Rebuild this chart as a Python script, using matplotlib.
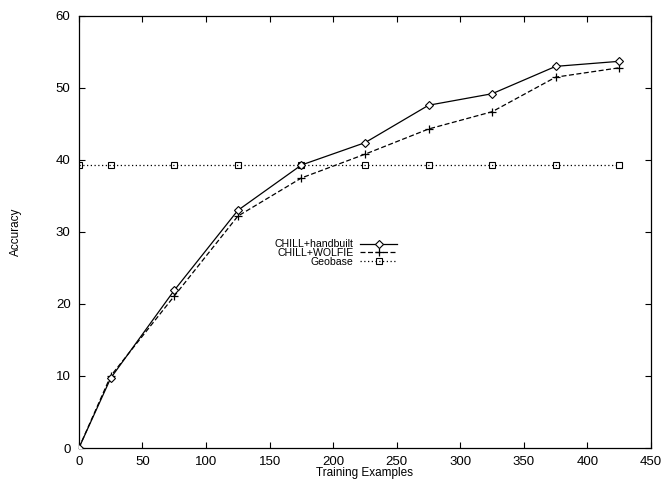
import matplotlib
matplotlib.use("Agg")
import matplotlib.pyplot as plt

plt.rcParams["font.family"] = ["Liberation Sans", "DejaVu Sans"]

EXAMPLES = [0, 25, 75, 125, 175, 225, 275, 325, 375, 425]
HANDBUILT = [0.0, 9.7, 21.9, 33.0, 39.3, 42.4, 47.6, 49.2, 53.0, 53.7]
WOLFIE = [0.0, 10.0, 21.1, 32.2, 37.5, 40.8, 44.3, 46.7, 51.5, 52.8]
GEOBASE = [39.3] * len(EXAMPLES)

fig = plt.figure(figsize=(6.63, 4.79), dpi=100)
ax = fig.add_axes([0.119, 0.0647, 0.863, 0.902])

ax.plot(EXAMPLES, HANDBUILT, color="black", lw=0.9, marker="D", ms=4,
        mfc="white", mec="black", mew=0.8, label="CHILL+handbuilt", zorder=4)
ax.plot(EXAMPLES, WOLFIE, color="black", lw=0.9, ls=(0, (4, 2)), marker="+", ms=6,
        mew=0.9, label="CHILL+WOLFIE", zorder=3)
ax.plot(EXAMPLES, GEOBASE, color="black", lw=0.9, ls=(0, (1, 2)), marker="s", ms=5,
        mfc="none", mec="black", mew=0.8, label="Geobase", zorder=2)

ax.set_xlim(0, 450)
ax.set_ylim(0, 60)
ax.set_xticks(range(0, 451, 50))
ax.set_yticks(range(0, 61, 10))
ax.tick_params(direction="in", length=4, width=0.8, top=True, right=True,
               labelsize=9.5, pad=6)
for sp in ax.spines.values():
    sp.set_linewidth(0.9)

ax.set_xlabel("Training Examples", fontsize=8.5)
ax.xaxis.set_label_coords(0.5, -0.044)
ax.set_ylabel("Accuracy", fontsize=8.5)
ax.yaxis.set_label_coords(-0.1, 0.5)

leg = ax.legend(loc="center right", bbox_to_anchor=(0.556, 0.451), frameon=False,
                markerfirst=False, fontsize=7.6, handlelength=3.5,
                labelspacing=-0.1, handletextpad=0.6, borderpad=0,
                borderaxespad=0)

fig.savefig("out.png", dpi=100)
